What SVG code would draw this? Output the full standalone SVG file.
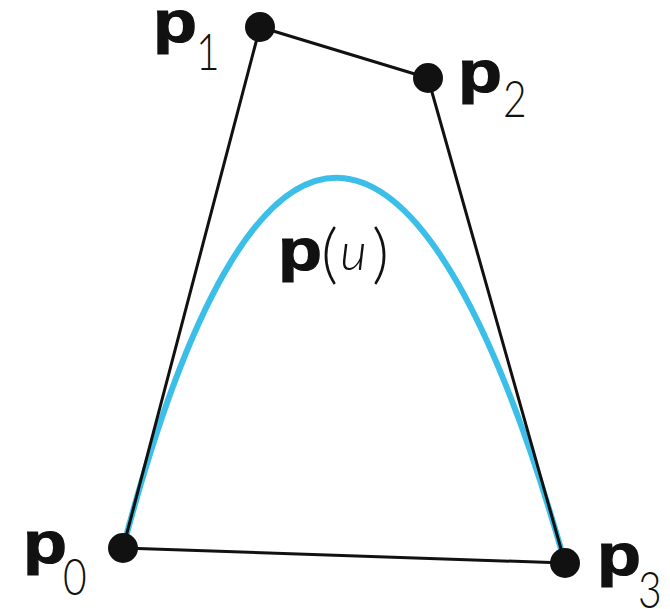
<svg xmlns="http://www.w3.org/2000/svg" width="670" height="609" viewBox="0 0 670 609">
<style>
.pt{fill:#111}
.poly{stroke:#111;stroke-width:3;fill:none;stroke-linejoin:round}
.curve{stroke:#3bbfe8;stroke-width:6;fill:none}
.b{font-family:"Liberation Sans",Arial,sans-serif;font-weight:bold;font-size:60px;fill:#111;stroke:#111;stroke-width:1.2}
.s{font-family:Lato,"Open Sans","Liberation Sans",sans-serif;font-weight:300;font-size:51px;fill:#111}
.i{font-family:Lato,"Open Sans","Liberation Sans",sans-serif;font-weight:300;font-style:italic;font-size:52px;fill:#111}
.par{font-family:Lato,"Open Sans","Liberation Sans",sans-serif;font-weight:300;font-size:66px;fill:#111}
</style>
<rect width="670" height="609" fill="#fff"/>
<g id="connectors">
<path class="curve" d="M123,548 C260,27 428,78 565,563"/>
<polyline class="poly" points="123,548 260,27 428,78 565,563 123,548"/>
</g>
<g id="p0"><circle class="pt" cx="123" cy="548" r="15"/><text class="b" transform="translate(23,563) scale(1.2,1)">p</text><text class="s" transform="translate(63,595) scale(0.8,1)">0</text></g>
<g id="p1"><circle class="pt" cx="260" cy="27" r="15"/><text class="b" transform="translate(153,42) scale(1.2,1)">p</text><text class="s" transform="translate(196,70) scale(0.8,1)">1</text></g>
<g id="p2"><circle class="pt" cx="428" cy="78" r="15"/><text class="b" transform="translate(458,92) scale(1.2,1)">p</text><text class="s" transform="translate(503,117) scale(0.8,1)">2</text></g>
<g id="p3"><circle class="pt" cx="565" cy="563" r="15"/><text class="b" transform="translate(597,575) scale(1.2,1)">p</text><text class="s" transform="translate(638,608) scale(0.8,1)">3</text></g>
<g id="pu"><text class="b" transform="translate(278,270) scale(1.2,1)">p</text><text class="par" x="321" y="276">(</text><text class="i" x="340" y="270">u</text><text class="par" x="372" y="276">)</text></g>
</svg>
